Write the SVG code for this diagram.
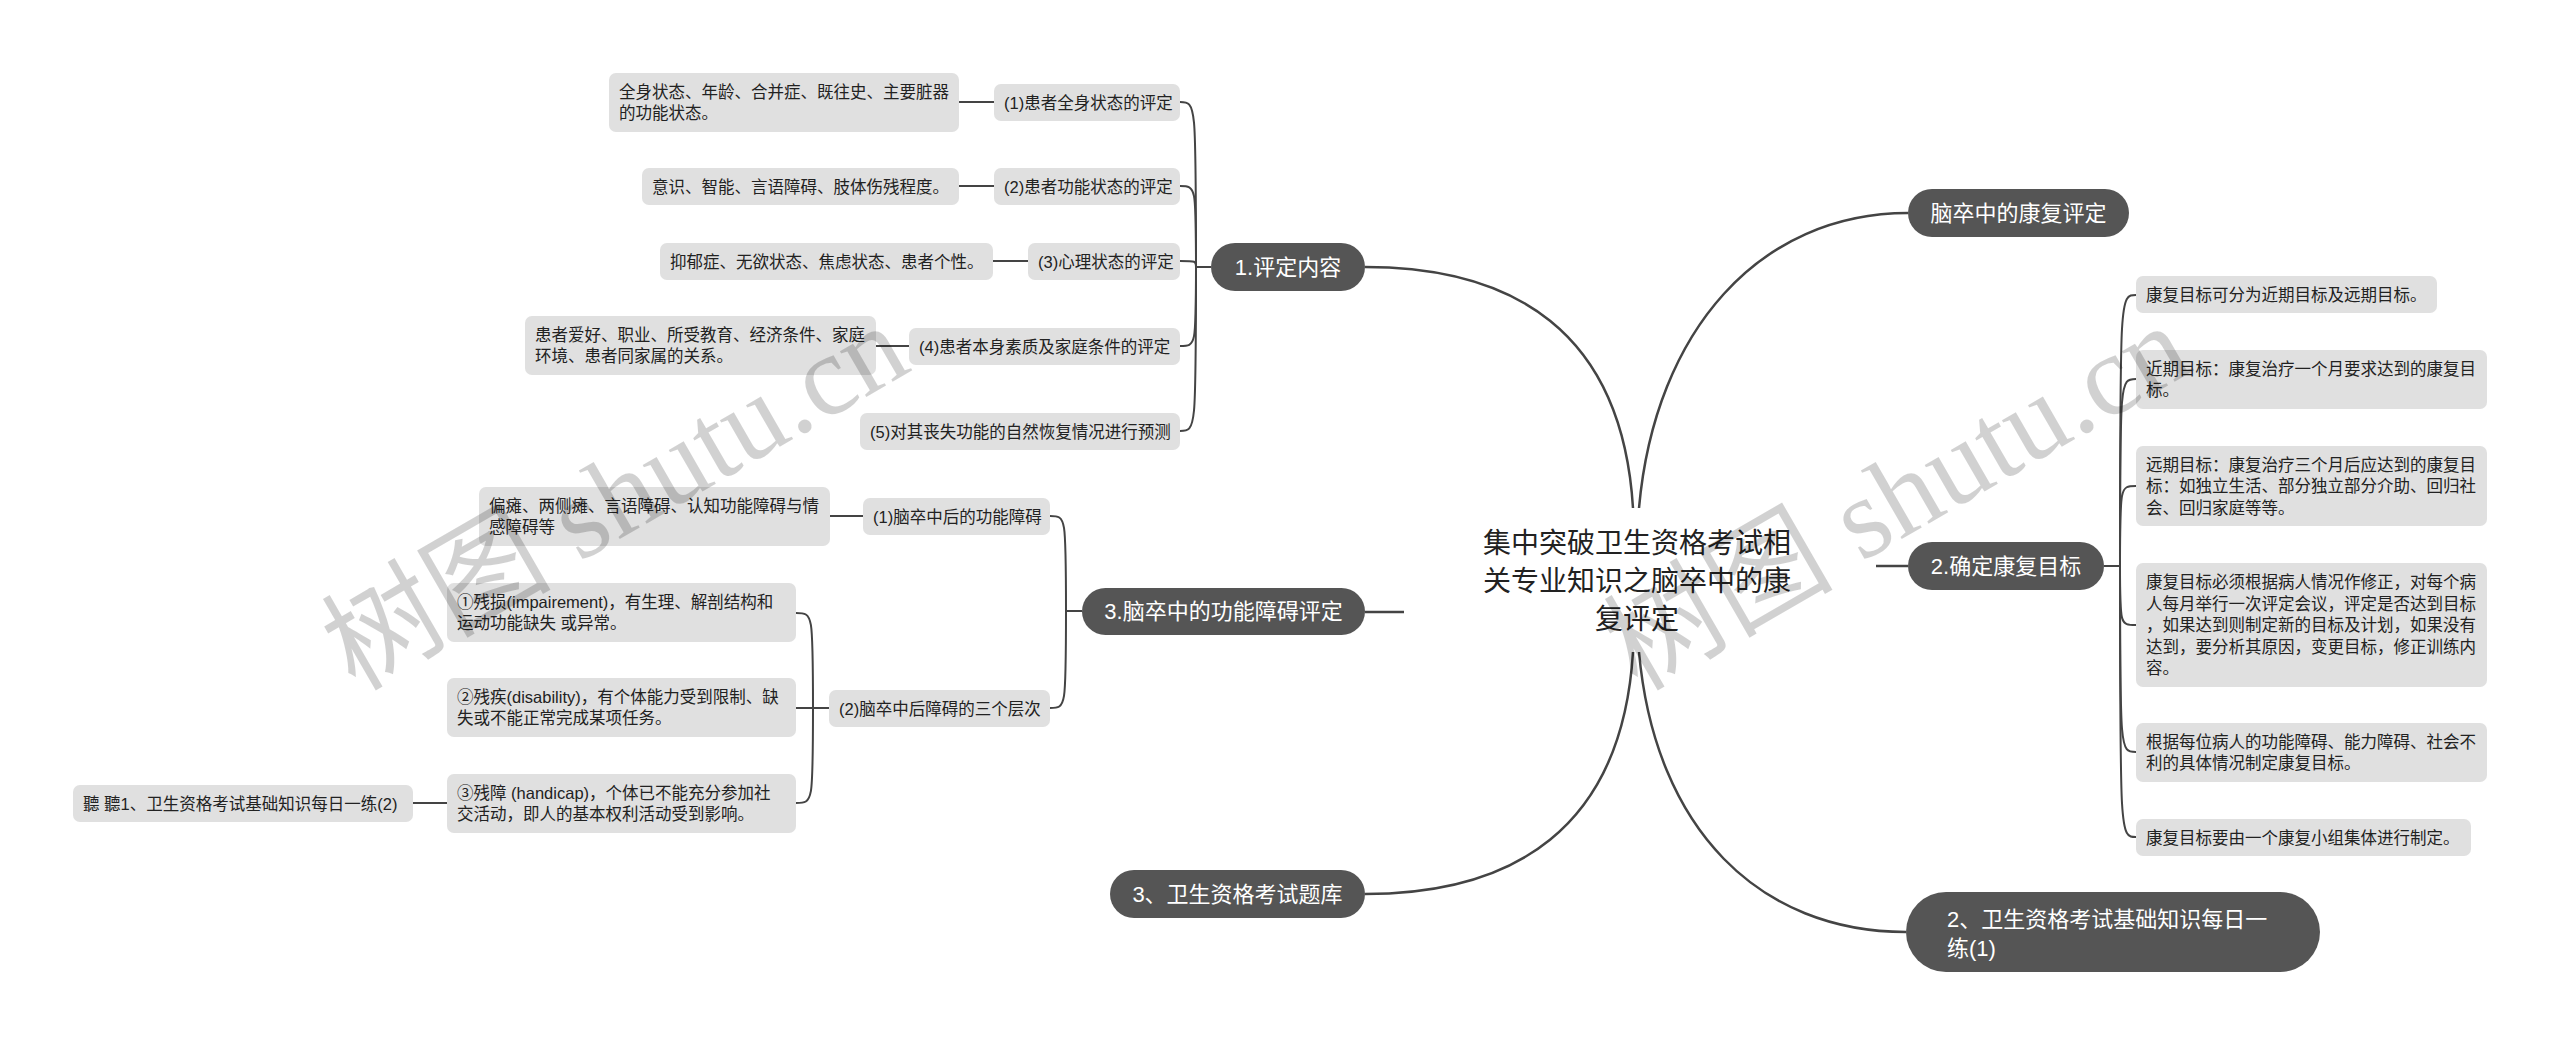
<svg xmlns="http://www.w3.org/2000/svg" width="2560" height="1044" viewBox="0 0 2560 1044">
<style>
.main rect{fill:#555555}
.main text{fill:#ffffff;font-family:"Liberation Sans","Noto Sans CJK SC",sans-serif;font-size:22px;text-anchor:middle}
.sub rect{fill:#e0e0e0}
.sub text{fill:#222222;font-family:"Liberation Sans","Noto Sans CJK SC",sans-serif;font-size:16.5px}
.center text{fill:#222222;font-family:"Liberation Sans","Noto Sans CJK SC",sans-serif;font-size:28px;text-anchor:middle}
#connectors path{fill:none;stroke:#444444;stroke-width:2}
#connectors path.trunk{stroke-width:2.5}
.wm{fill:#000000;fill-opacity:0.18;font-family:"Liberation Serif","Noto Sans CJK SC",serif;font-size:115px}
</style>
<rect x="0" y="0" width="2560" height="1044" fill="#ffffff"/>
<g id="connectors">
<path class="trunk" d="M1633,508 C1622,330 1512,267 1365,267"/>
<path class="trunk" d="M1639,508 C1655,330 1760,213 1908,213"/>
<path class="trunk" d="M1404,612 H1365"/>
<path class="trunk" d="M1876,566 H1908"/>
<path class="trunk" d="M1633,652 C1622,830 1512,894 1365,894"/>
<path class="trunk" d="M1639,652 C1655,830 1760,932 1906,932"/>
<path d="M1211,267 H1196 C1196,102 1196,102 1180,102"/>
<path d="M1211,267 H1196 C1196,186 1196,186 1180,186"/>
<path d="M1211,267 H1196 C1196,261 1196,261 1180,261"/>
<path d="M1211,267 H1196 C1196,346 1196,346 1180,346"/>
<path d="M1211,267 H1196 C1196,431 1196,431 1180,431"/>
<path d="M959,102 H994"/>
<path d="M959,186 H994"/>
<path d="M993,261 H1028"/>
<path d="M876,346 H909"/>
<path d="M1082,611 H1066 C1066,516 1066,516 1050,516"/>
<path d="M1082,611 H1066 C1066,708 1066,708 1050,708"/>
<path d="M830,516 H863"/>
<path d="M829,708 H813 C813,613 813,613 796,613"/>
<path d="M829,708 H796"/>
<path d="M829,708 H813 C813,803 813,803 796,803"/>
<path d="M413,803 H447"/>
<path d="M2104,566 H2120 C2120,295 2120,295 2136,295"/>
<path d="M2104,566 H2120 C2120,379 2120,379 2136,379"/>
<path d="M2104,566 H2120 C2120,486 2120,486 2136,486"/>
<path d="M2104,566 H2120 C2120,625 2120,625 2136,625"/>
<path d="M2104,566 H2120 C2120,752 2120,752 2136,752"/>
<path d="M2104,566 H2120 C2120,837 2120,837 2136,837"/>
</g>
<g id="center" class="center">
<text x="1637" y="553">集中突破卫生资格考试相</text>
<text x="1637" y="591">关专业知识之脑卒中的康</text>
<text x="1637" y="629">复评定</text>
</g>
<g id="n1" class="main"><rect x="1211" y="243" width="154" height="48" rx="24"/><text x="1288" y="275">1.评定内容</text></g>
<g id="n3" class="main"><rect x="1082" y="588" width="283" height="47" rx="23.5"/><text x="1223.5" y="619">3.脑卒中的功能障碍评定</text></g>
<g id="n3b" class="main"><rect x="1110" y="870" width="255" height="48" rx="24"/><text x="1237.5" y="902">3、卫生资格考试题库</text></g>
<g id="r1" class="main"><rect x="1908" y="189" width="221" height="48" rx="24"/><text x="2018.5" y="221">脑卒中的康复评定</text></g>
<g id="r2" class="main"><rect x="1908" y="542" width="196" height="48" rx="24"/><text x="2006" y="574">2.确定康复目标</text></g>
<g id="r3" class="main"><rect x="1906" y="892" width="414" height="80" rx="40"/><text x="1947" y="927" style="text-anchor:start">2、卫生资格考试基础知识每日一</text><text x="1947" y="956" style="text-anchor:start">练(1)</text></g>
<g id="s1" class="sub"><rect x="994" y="84" width="186" height="37" rx="7"/><text x="1004" y="108.5">(1)患者全身状态的评定</text></g>
<g id="s2" class="sub"><rect x="994" y="168" width="186" height="37" rx="7"/><text x="1004" y="192.5">(2)患者功能状态的评定</text></g>
<g id="s3" class="sub"><rect x="1028" y="243" width="152" height="37" rx="7"/><text x="1038" y="267.5">(3)心理状态的评定</text></g>
<g id="s4" class="sub"><rect x="909" y="328" width="271" height="37" rx="7"/><text x="919" y="352.5">(4)患者本身素质及家庭条件的评定</text></g>
<g id="s5" class="sub"><rect x="860" y="413" width="320" height="37" rx="7"/><text x="870" y="437.5">(5)对其丧失功能的自然恢复情况进行预测</text></g>
<g id="l1" class="sub"><rect x="609" y="73" width="350" height="59" rx="7"/><text x="619" y="97.75">全身状态、年龄、合并症、既往史、主要脏器</text><text x="619" y="119.25">的功能状态。</text></g>
<g id="l2" class="sub"><rect x="642" y="168" width="317" height="37" rx="7"/><text x="652" y="192.5">意识、智能、言语障碍、肢体伤残程度。</text></g>
<g id="l3" class="sub"><rect x="660" y="243" width="333" height="37" rx="7"/><text x="670" y="267.5">抑郁症、无欲状态、焦虑状态、患者个性。</text></g>
<g id="l4" class="sub"><rect x="525" y="316" width="351" height="59" rx="7"/><text x="535" y="340.75">患者爱好、职业、所受教育、经济条件、家庭</text><text x="535" y="362.25">环境、患者同家属的关系。</text></g>
<g id="t1" class="sub"><rect x="863" y="498" width="187" height="37" rx="7"/><text x="873" y="522.5">(1)脑卒中后的功能障碍</text></g>
<g id="t2" class="sub"><rect x="829" y="690" width="221" height="37" rx="7"/><text x="839" y="714.5">(2)脑卒中后障碍的三个层次</text></g>
<g id="u0" class="sub"><rect x="479" y="487" width="351" height="59" rx="7"/><text x="489" y="511.75">偏瘫、两侧瘫、言语障碍、认知功能障碍与情</text><text x="489" y="533.25">感障碍等</text></g>
<g id="u1" class="sub"><rect x="447" y="583" width="349" height="59" rx="7"/><text x="457" y="607.75">①残损(impairement)，有生理、解剖结构和</text><text x="457" y="629.25">运动功能缺失 或异常。</text></g>
<g id="u2" class="sub"><rect x="447" y="678" width="349" height="59" rx="7"/><text x="457" y="702.75">②残疾(disability)，有个体能力受到限制、缺</text><text x="457" y="724.25">失或不能正常完成某项任务。</text></g>
<g id="u3" class="sub"><rect x="447" y="774" width="349" height="59" rx="7"/><text x="457" y="798.75">③残障 (handicap)，个体已不能充分参加社</text><text x="457" y="820.25">交活动，即人的基本权利活动受到影响。</text></g>
<g id="u4" class="sub"><rect x="73" y="785" width="340" height="37" rx="7"/><text x="83" y="809.5">聽 聽1、卫生资格考试基础知识每日一练(2)</text></g>
<g id="c1" class="sub"><rect x="2136" y="276" width="301" height="37" rx="7"/><text x="2146" y="300.5">康复目标可分为近期目标及远期目标。</text></g>
<g id="c2" class="sub"><rect x="2136" y="350" width="351" height="59" rx="7"/><text x="2146" y="374.75">近期目标：康复治疗一个月要求达到的康复目</text><text x="2146" y="396.25">标。</text></g>
<g id="c3" class="sub"><rect x="2136" y="446" width="351" height="80" rx="7"/><text x="2146" y="470.5">远期目标：康复治疗三个月后应达到的康复目</text><text x="2146" y="492">标：如独立生活、部分独立部分介助、回归社</text><text x="2146" y="513.5">会、回归家庭等等。</text></g>
<g id="c4" class="sub"><rect x="2136" y="563" width="351" height="124" rx="7"/><text x="2146" y="588">康复目标必须根据病人情况作修正，对每个病</text><text x="2146" y="609.5">人每月举行一次评定会议，评定是否达到目标</text><text x="2146" y="631">，如果达到则制定新的目标及计划，如果没有</text><text x="2146" y="652.5">达到，要分析其原因，变更目标，修正训练内</text><text x="2146" y="674">容。</text></g>
<g id="c5" class="sub"><rect x="2136" y="723" width="351" height="59" rx="7"/><text x="2146" y="747.75">根据每位病人的功能障碍、能力障碍、社会不</text><text x="2146" y="769.25">利的具体情况制定康复目标。</text></g>
<g id="c6" class="sub"><rect x="2136" y="819" width="335" height="37" rx="7"/><text x="2146" y="843.5">康复目标要由一个康复小组集体进行制定。</text></g>
<text class="wm" x="355" y="692" transform="rotate(-30 355 692)">树图 shutu.cn</text>
<text class="wm" x="1637" y="692" transform="rotate(-30 1637 692)">树图 shutu.cn</text>
</svg>
